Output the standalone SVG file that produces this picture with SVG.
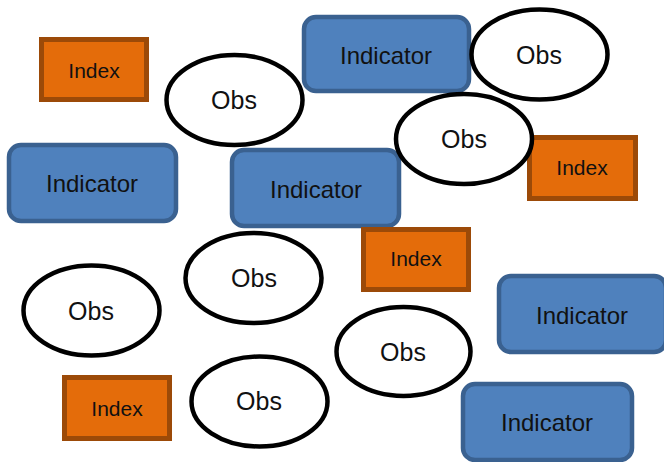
<svg xmlns="http://www.w3.org/2000/svg" width="664" height="462" viewBox="0 0 664 462">
<style>
.ind{fill:#4F81BD;stroke:#3A6190;stroke-width:4.5}
.idx{fill:#E46C0A;stroke:#9C4A08;stroke-width:5}
.obs{fill:#FFFFFF;stroke:#000000;stroke-width:4.5}
text{font-family:"Liberation Sans",Arial,sans-serif;fill:#111111;text-anchor:middle}
.ti{font-size:24px}
.tx{font-size:21px}
.to{font-size:25px}
</style>
<rect width="664" height="462" fill="#FFFFFF"/>
<g id="connectors"></g>
<g id="indicator-top"><rect class="ind" x="304" y="17" width="165" height="74" rx="12"/><text class="ti" x="386" y="64">Indicator</text></g>
<g id="indicator-left"><rect class="ind" x="9" y="145" width="167" height="76" rx="12"/><text class="ti" x="92" y="192">Indicator</text></g>
<g id="indicator-center"><rect class="ind" x="232" y="150" width="167" height="76" rx="12"/><text class="ti" x="316" y="198">Indicator</text></g>
<g id="indicator-right"><rect class="ind" x="499" y="276" width="167" height="76" rx="12"/><text class="ti" x="582" y="324">Indicator</text></g>
<g id="indicator-bottom"><rect class="ind" x="463" y="384" width="169" height="76" rx="12"/><text class="ti" x="547" y="431">Indicator</text></g>
<g id="index-1"><rect class="idx" x="41.5" y="39.5" width="105" height="60"/><text class="tx" x="94" y="78">Index</text></g>
<g id="index-2"><rect class="idx" x="529.5" y="137.5" width="106" height="61"/><text class="tx" x="582" y="175">Index</text></g>
<g id="index-3"><rect class="idx" x="363.5" y="229.5" width="105" height="60"/><text class="tx" x="416" y="266">Index</text></g>
<g id="index-4"><rect class="idx" x="64.5" y="377.5" width="105" height="61"/><text class="tx" x="117" y="416">Index</text></g>
<g id="obs-1"><ellipse class="obs" cx="234.5" cy="100" rx="68" ry="45"/><text class="to" x="234" y="109">Obs</text></g>
<g id="obs-2"><ellipse class="obs" cx="539.5" cy="54.5" rx="68" ry="45"/><text class="to" x="539" y="64">Obs</text></g>
<g id="obs-3"><ellipse class="obs" cx="464" cy="139" rx="68" ry="45"/><text class="to" x="464" y="148">Obs</text></g>
<g id="obs-4"><ellipse class="obs" cx="253.5" cy="278" rx="68" ry="45"/><text class="to" x="254" y="287">Obs</text></g>
<g id="obs-5"><ellipse class="obs" cx="91.5" cy="310.5" rx="68" ry="45"/><text class="to" x="91" y="320">Obs</text></g>
<g id="obs-6"><ellipse class="obs" cx="403.5" cy="351.5" rx="67" ry="44.5"/><text class="to" x="403" y="361">Obs</text></g>
<g id="obs-7"><ellipse class="obs" cx="259.5" cy="401.5" rx="68" ry="45"/><text class="to" x="259" y="410">Obs</text></g>
</svg>
